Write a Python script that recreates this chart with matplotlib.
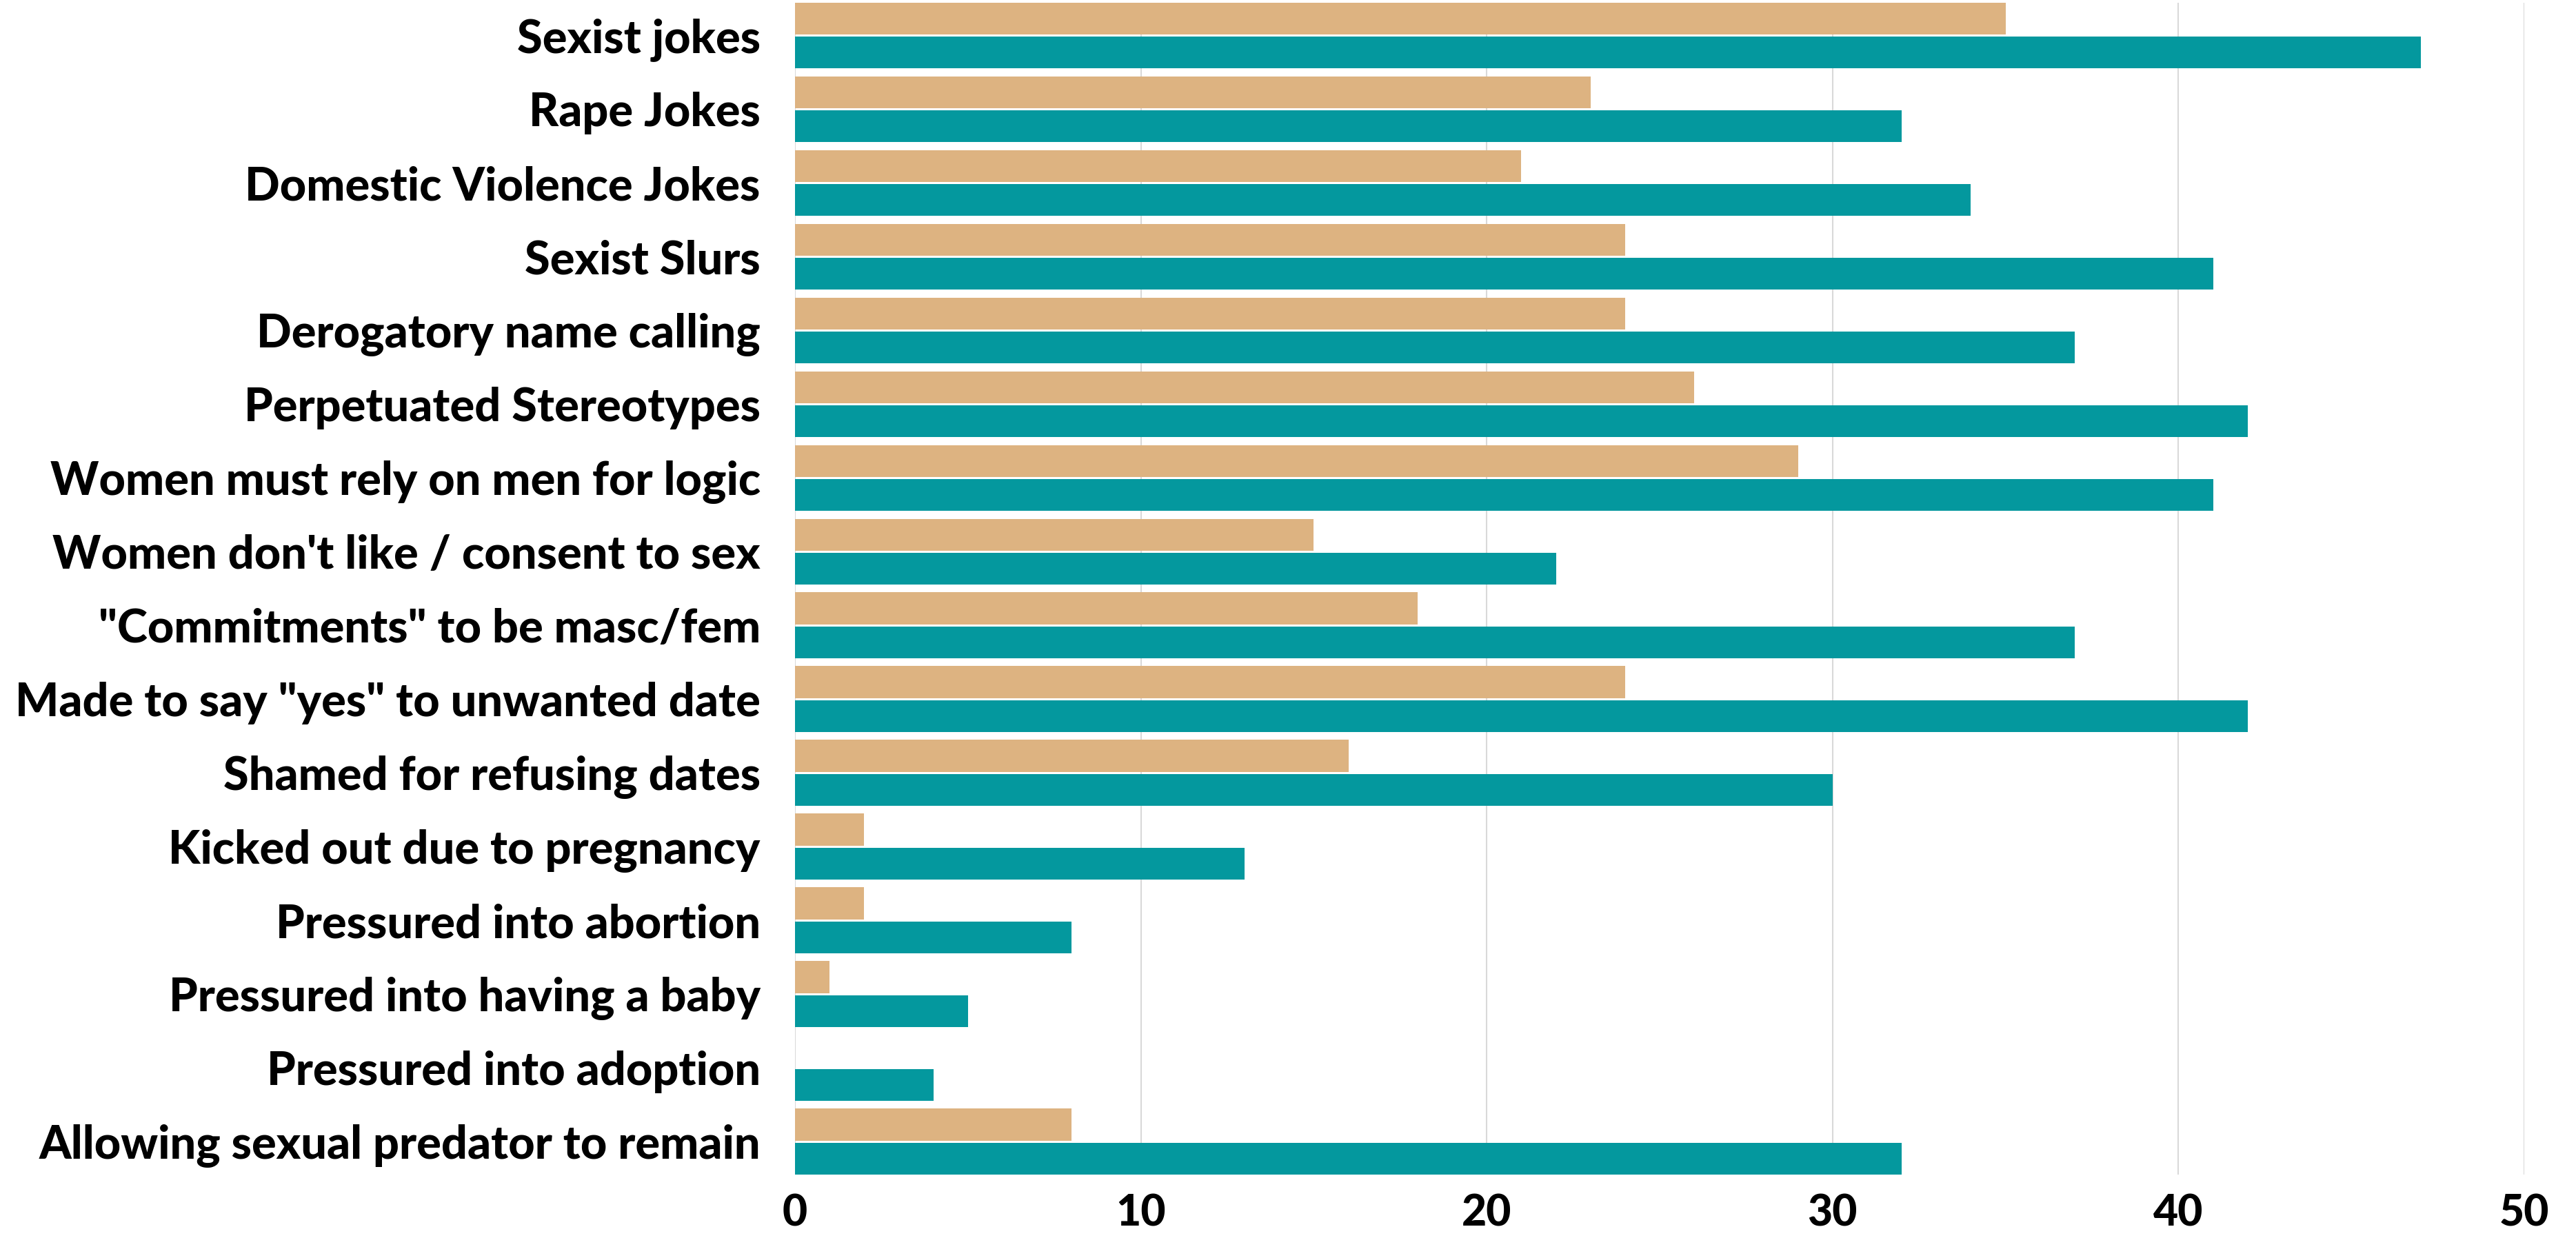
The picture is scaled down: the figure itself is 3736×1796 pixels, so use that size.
import numpy as np
import matplotlib
matplotlib.use("Agg")
import matplotlib.pyplot as plt

plt.rcParams['font.family'] = ['Lato', 'DejaVu Sans']

# categories, top to bottom
labels = [
    "Sexist jokes",
    "Rape Jokes",
    "Domestic Violence Jokes",
    "Sexist Slurs",
    "Derogatory name calling",
    "Perpetuated Stereotypes",
    "Women must rely on men for logic",
    "Women don't like / consent to sex",
    "\"Commitments\" to be masc/fem",
    "Made to say \"yes\" to unwanted date",
    "Shamed for refusing dates",
    "Kicked out due to pregnancy",
    "Pressured into abortion",
    "Pressured into having a baby",
    "Pressured into adoption",
    "Allowing sexual predator to remain",
]

# tan series (upper bar of each pair)
tan_vals = [35, 23, 21, 24, 24, 26, 29, 15, 18, 24, 16, 2, 2, 1, 0, 8]
# teal series (lower bar of each pair)
teal_vals = [47, 32, 34, 41, 37, 42, 41, 22, 37, 42, 30, 13, 8, 5, 4, 32]

xticks = [0, 10, 20, 30, 40, 50]

tan = "#DDB381"
teal = "#04989E"

fig = plt.figure(figsize=(37.37, 17.96), dpi=100)
ax = fig.add_axes([0.3085, 0.0512, 0.6712, 0.9468])

y = np.arange(len(labels))
h = 0.433
off = h / 2 + 0.014
ax.barh(y - off, tan_vals, height=h, color=tan, zorder=3)
ax.barh(y + off, teal_vals, height=h, color=teal, zorder=3)

ax.set_ylim(len(labels) - 1 + 0.447, -0.447)
ax.set_xlim(0, 50)
ax.set_xticks(xticks)
ax.set_yticks(y)
ax.set_yticklabels(labels)

for s in ax.spines.values():
    s.set_visible(False)
ax.grid(axis='x', color='#d9d9d9', linewidth=1.5, zorder=0)
ax.tick_params(axis='both', length=0)
ax.tick_params(axis='y', pad=36, labelsize=48)
ax.tick_params(axis='x', pad=20, labelsize=45)
for t in ax.get_yticklabels() + ax.get_xticklabels():
    t.set_fontweight('black')
# nudge y labels up slightly to sit like the reference
for t in ax.get_yticklabels():
    t.set_va('center_baseline')

fig.savefig("out.png", dpi=100)
